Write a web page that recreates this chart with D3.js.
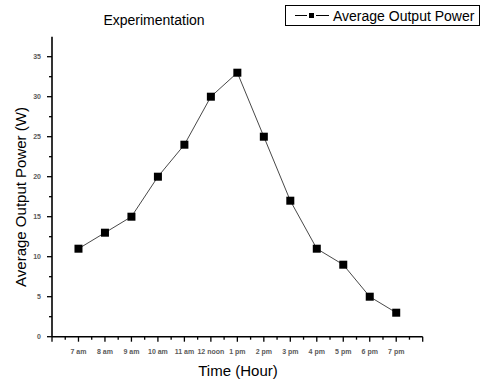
<!DOCTYPE html>
<html lang="en">
<head>
  <meta charset="UTF-8">
  <title>Experimentation</title>
  <style>
    body {
      margin: 0;
      padding: 0;
      background: #fff;
      font-family: Arial, "Liberation Sans", sans-serif;
    }
    .tick-label {
      font-size: 7px;
      font-weight: bold;
      fill: #5a5a5a;
    }
  </style>
</head>
<body>
  <script src="https://d3js.org/d3.v7.min.js"></script>
  <script>
    // Data
    const hours = ['7 am', '8 am', '9 am', '10 am', '11 am', '12 noon', '1 pm',
                   '2 pm', '3 pm', '4 pm', '5 pm', '6 pm', '7 pm'];
    const power = [11, 13, 15, 20, 24, 30, 33, 25, 17, 11, 9, 5, 3];
    const yTicks = [0, 5, 10, 15, 20, 25, 30, 35];

    const width = 486;
    const height = 383;
    const margin = { left: 52, right: 63.3, top: 36.7, bottom: 46.3 };

    const svg = d3.select('body')
      .append('svg')
      .attr('width', width)
      .attr('height', height);

    // x: category index, one extra slot on each side
    const x = d3.scaleLinear()
      .domain([-1, hours.length])
      .range([margin.left, width - margin.right]);

    const y = d3.scaleLinear()
      .domain([0, 37.5])
      .range([height - margin.bottom, margin.top]);

    const x0 = margin.left;
    const y0 = height - margin.bottom;

    // Ticks (outward)
    const xMajor = d3.range(-1, hours.length + 1);
    const xMinor = d3.range(-0.5, hours.length, 1);
    svg.append('g').selectAll('line.xmaj')
      .data(xMajor)
      .enter().append('line')
        .attr('x1', d => x(d)).attr('x2', d => x(d))
        .attr('y1', y0).attr('y2', y0 + 5)
        .attr('stroke', '#000').attr('stroke-width', 1.3);
    svg.append('g').selectAll('line.xmin')
      .data(xMinor)
      .enter().append('line')
        .attr('x1', d => x(d)).attr('x2', d => x(d))
        .attr('y1', y0).attr('y2', y0 + 3)
        .attr('stroke', '#000').attr('stroke-width', 1.3);

    const yMinor = d3.range(2.5, 37.5, 5);
    svg.append('g').selectAll('line.ymaj')
      .data(yTicks)
      .enter().append('line')
        .attr('x1', x0 - 5).attr('x2', x0)
        .attr('y1', d => y(d)).attr('y2', d => y(d))
        .attr('stroke', '#000').attr('stroke-width', 1.3);
    svg.append('g').selectAll('line.ymin')
      .data(yMinor)
      .enter().append('line')
        .attr('x1', x0 - 3).attr('x2', x0)
        .attr('y1', d => y(d)).attr('y2', d => y(d))
        .attr('stroke', '#000').attr('stroke-width', 1.3);

    // Axis lines
    svg.append('line')
      .attr('x1', x0).attr('x2', x0)
      .attr('y1', y(37.5)).attr('y2', y0)
      .attr('stroke', '#000').attr('stroke-width', 1.6);
    svg.append('line')
      .attr('x1', x0).attr('x2', x(hours.length))
      .attr('y1', y0).attr('y2', y0)
      .attr('stroke', '#000').attr('stroke-width', 1.6);

    // Tick labels
    svg.append('g').selectAll('text')
      .data(hours)
      .enter().append('text')
        .attr('class', 'tick-label')
        .attr('x', (d, i) => x(i))
        .attr('y', y0 + 17)
        .attr('text-anchor', 'middle')
        .text(d => d);
    svg.append('g').selectAll('text')
      .data(yTicks)
      .enter().append('text')
        .attr('class', 'tick-label')
        .attr('x', x0 - 11)
        .attr('y', d => y(d))
        .attr('dy', '0.35em')
        .attr('text-anchor', 'end')
        .text(d => d);

    // Line + markers
    const line = d3.line()
      .x((d, i) => x(i))
      .y(d => y(d));
    svg.append('path')
      .datum(power)
      .attr('d', line)
      .attr('fill', 'none')
      .attr('stroke', '#333')
      .attr('stroke-width', 0.9);
    svg.append('g').selectAll('rect')
      .data(power)
      .enter().append('rect')
        .attr('x', (d, i) => x(i) - 4)
        .attr('y', d => y(d) - 4)
        .attr('width', 8)
        .attr('height', 8)
        .attr('fill', '#000');

    // Titles
    svg.append('text')
      .attr('x', 154)
      .attr('y', 25)
      .attr('text-anchor', 'middle')
      .style('font-size', '14px')
      .text('Experimentation');
    svg.append('text')
      .attr('x', 238)
      .attr('y', 376)
      .attr('text-anchor', 'middle')
      .style('font-size', '15px')
      .text('Time (Hour)');
    svg.append('text')
      .attr('transform', 'translate(26,197) rotate(-90)')
      .attr('text-anchor', 'middle')
      .style('font-size', '15px')
      .text('Average Output Power (W)');

    // Legend
    const lg = svg.append('g');
    lg.append('rect')
      .attr('x', 285.5).attr('y', 5.5)
      .attr('width', 194).attr('height', 20)
      .attr('fill', '#fff').attr('stroke', '#000').attr('stroke-width', 1);
    lg.append('line')
      .attr('x1', 295).attr('x2', 307)
      .attr('y1', 15.5).attr('y2', 15.5)
      .attr('stroke', '#000').attr('stroke-width', 1);
    lg.append('line')
      .attr('x1', 316).attr('x2', 329)
      .attr('y1', 15.5).attr('y2', 15.5)
      .attr('stroke', '#000').attr('stroke-width', 1);
    lg.append('rect')
      .attr('x', 309).attr('y', 13)
      .attr('width', 5).attr('height', 5)
      .attr('fill', '#000');
    lg.append('text')
      .attr('x', 333)
      .attr('y', 21)
      .style('font-size', '14px')
      .text('Average Output Power');
  </script>
</body>
</html>
